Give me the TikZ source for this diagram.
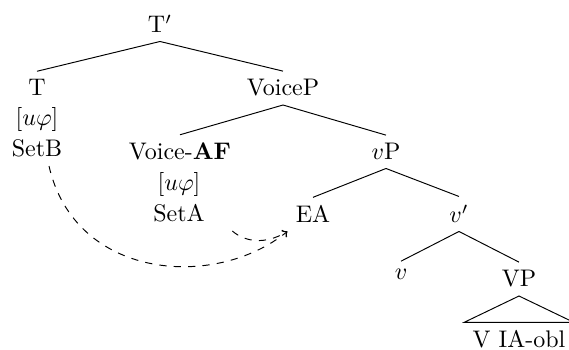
\documentclass[tikz,border=0pt]{standalone}
\begin{document}
\begin{tikzpicture}[x=0.4167pt, y=-0.4167pt, move/.style={->,dashed}]
\useasboundingbox (0,0) rectangle (569,350);
\begin{scope}[every node/.style={anchor=base}]
\node (tbar) at (160,33) {T$'$};
\node (t) at (37,96) {T};
\node (tfeat) at (37,126) {$[u\varphi]$};
\node (setb) at (37,157) {SetB};
\node (voicep) at (283,96) {VoiceP};
\node (voice) at (180,160) {Voice-\textbf{AF}};
\node (voicefeat) at (179,191) {$[u\varphi]$};
\node (seta) at (179,222) {SetA};
\node (vp) at (386,160) {$v$P};
\node (ea) at (313,223) {EA};
\node (vbar) at (459,223) {$v'$};
\node (v) at (401,280) {$v$};
\node (bigvp) at (519,287) {VP};
\node (leaf) at (519,348) {V IA-obl};
\end{scope}
\path
	(tbar.south) edge (t.north)
	(tbar.south) edge (voicep.north)
	(voicep.south) edge (voice.north)
	(voicep.south) edge (vp.north)
	(vp.south) edge (ea.north)
	(vp.south) edge (vbar.north)
	(vbar.south) edge (v.north)
	(vbar.south) edge (bigvp.north)
	;
\draw (bigvp.south) -- (leaf.north west) -- (leaf.north east) -- cycle;
\draw[move] ([xshift=5pt]setb.south) .. controls (75,280) and (215,290) .. (ea.south west);
\draw[move] ([xshift=8pt]seta.south east) .. controls (245,242) and (265,245) .. (ea.south west);
\end{tikzpicture}
\end{document}
